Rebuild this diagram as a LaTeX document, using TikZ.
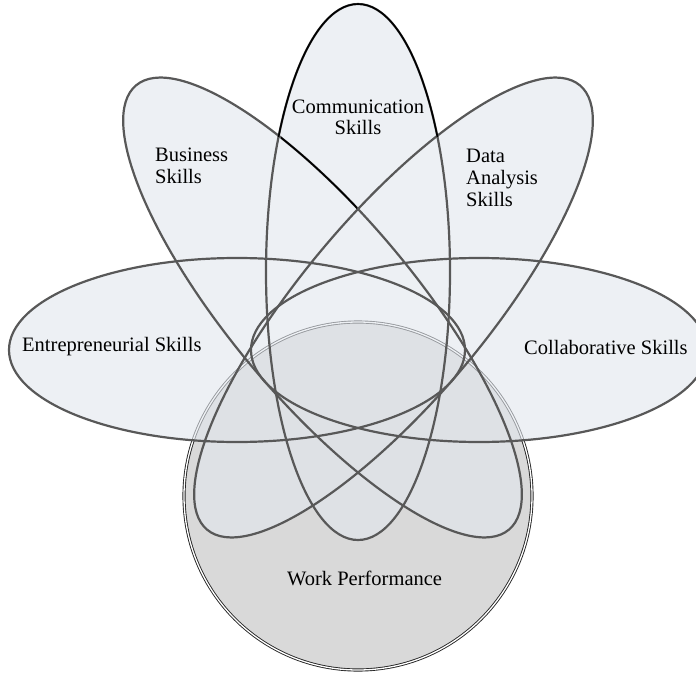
\documentclass[tikz,border=0pt]{standalone}
\usepackage{fontspec}
\setmainfont{Liberation Serif}
\definecolor{elline}{RGB}{88,88,88}
\definecolor{ellfill}{RGB}{226,231,238}
\definecolor{wpfill}{RGB}{217,217,217}
\begin{document}
\begin{tikzpicture}[x=1pt,y=-1pt,
  ell/.style={draw=elline, line width=2.2pt},
  lbl/.style={font=\fontsize{20.5}{21.8}\selectfont, text=black, inner sep=0pt}]
\clip (0,0) rectangle (696,674);
\fill[white] (0,0) rectangle (696,674);
% centres
\coordinate (V) at (358,272);   % communication
\coordinate (B) at (322.5,307.5); % business
\coordinate (D) at (393.5,307.5); % data analysis
\coordinate (E) at (237,350);   % entrepreneurial
\coordinate (K) at (479,350);   % collaborative
\coordinate (W) at (358,496);   % work performance
% work performance circle
\fill[wpfill] (W) circle[radius=174];
\draw[draw=black!85, line width=0.9pt, double=white, double distance=1.3pt] (W) circle[radius=174];
% ellipse fills
\begin{scope}[transparency group, opacity=0.6]
  \fill[ellfill] (V) ellipse[x radius=92, y radius=268];
  \fill[ellfill, rotate around={-50:(B)}] (B) ellipse[x radius=290, y radius=92];
  \fill[ellfill, rotate around={50:(D)}] (D) ellipse[x radius=290, y radius=92];
  \fill[ellfill] (E) ellipse[x radius=228, y radius=92];
  \fill[ellfill] (K) ellipse[x radius=228, y radius=92];
\end{scope}
% ellipse outlines
\draw[ell] (E) ellipse[x radius=228, y radius=92];
\draw[ell] (K) ellipse[x radius=228, y radius=92];
\draw[ell, rotate around={-50:(B)}] (B) ellipse[x radius=290, y radius=92];
\draw[ell, rotate around={50:(D)}] (D) ellipse[x radius=290, y radius=92];
\draw[ell] (V) ellipse[x radius=92, y radius=268];
% black upper parts
\begin{scope}
  \clip (0,0) rectangle (696,137);
  \draw[black, line width=1.6pt] (V) ellipse[x radius=92, y radius=268];
\end{scope}
\begin{scope}
  \clip (281,120) rectangle (357,212);
  \draw[black, line width=1.6pt, rotate around={-50:(B)}] (B) ellipse[x radius=290, y radius=92];
\end{scope}
% labels
\node[lbl, anchor=base, align=center] (comm) at (358,135) {Communication\\Skills};
\node[lbl, anchor=base west, align=left] (bus) at (155,183) {Business\\Skills};
\node[lbl, anchor=base west, align=left] (data) at (466,206) {Data\\Analysis\\Skills};
\node[lbl, anchor=base west] (ent) at (22,351) {Entrepreneurial Skills};
\node[lbl, anchor=base west] (col) at (524,354) {Collaborative Skills};
\node[lbl, anchor=base west] (wp) at (287,585) {Work Performance};
\end{tikzpicture}
\end{document}
